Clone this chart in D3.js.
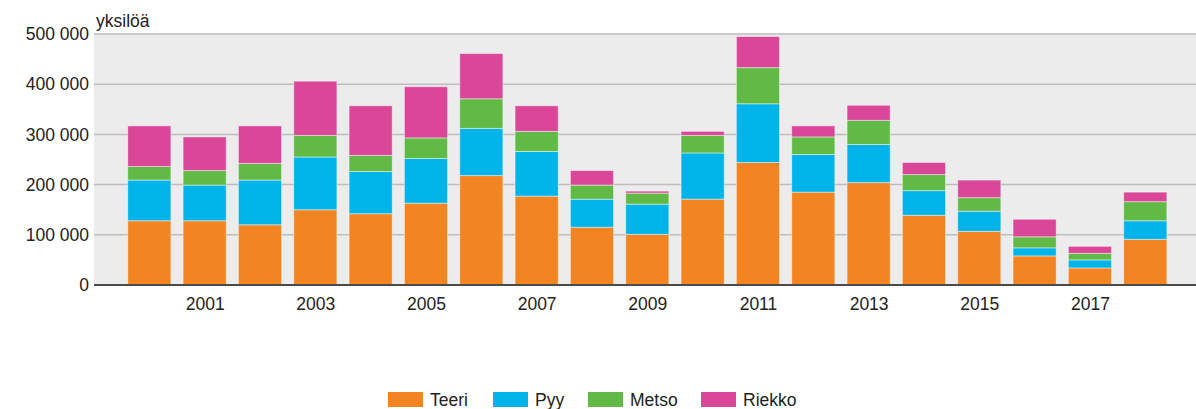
<!DOCTYPE html>
<html>
<head>
<meta charset="utf-8">
<script src="https://cdn.jsdelivr.net/npm/d3@7"></script>
<style>
  html, body { margin: 0; padding: 0; background: #fff; }
  svg { display: block; font-family: "Liberation Sans", Arial, sans-serif; }
</style>
</head>
<body>
<svg id="chart" width="1196" height="409"></svg>
<script>
// Riistasaaliit lajeittain (yksilöä)
const years = [2000, 2001, 2002, 2003, 2004, 2005, 2006, 2007, 2008, 2009,
               2010, 2011, 2012, 2013, 2014, 2015, 2016, 2017, 2018];
const seriesNames = ["Teeri", "Pyy", "Metso", "Riekko"];
const teeri  = [128000, 128000, 120000, 150000, 142000, 163000, 218000, 177000, 115000, 101000,
                171000, 244000, 185000, 204000, 139000, 107000, 58000, 34000, 91000];
const pyy    = [81000, 71000, 89000, 105000, 84000, 89000, 94000, 89000, 56000, 60000,
                92000, 117000, 75000, 76000, 49000, 40000, 16000, 16000, 37000];
const metso  = [27000, 29000, 33000, 43000, 32000, 41000, 59000, 40000, 28000, 22000,
                35000, 72000, 35000, 48000, 32000, 27000, 22000, 13000, 38000];
const riekko = [81000, 67000, 75000, 108000, 99000, 102000, 90000, 51000, 29000, 4000,
                8000, 62000, 22000, 30000, 24000, 35000, 35000, 14000, 19000];
const yTicks = [0, 100000, 200000, 300000, 400000, 500000];
const xTickYears = [2001, 2003, 2005, 2007, 2009, 2011, 2013, 2015, 2017];
const colors = ["#f38422", "#00b4ea", "#61ba46", "#da4799"];
const yLabel = "yksilöä";

const rows = years.map((y, i) => ({
  year: y, Teeri: teeri[i], Pyy: pyy[i], Metso: metso[i], Riekko: riekko[i]
}));

const svg = d3.select("#chart");
const plot = { left: 94, right: 1196, top: 34, bottom: 285 };
const fontSize = 17.5;

// continuous year axis: one year of space before the first bar
const step = 55.33;
const x = d3.scaleLinear()
  .domain([1999, 2019])
  .range([plot.left, plot.left + 20 * step]);
const barWidth = step * 0.78;

const y = d3.scaleLinear().domain([0, 500000]).range([plot.bottom, plot.top]);
const color = d3.scaleOrdinal().domain(seriesNames).range(colors);

// plot background
svg.append("rect")
  .attr("x", plot.left).attr("y", plot.top)
  .attr("width", plot.right - plot.left).attr("height", plot.bottom - plot.top)
  .attr("fill", "#ececec");

// gridlines
svg.append("g").selectAll("line")
  .data(yTicks.filter(d => d > 0))
  .join("line")
  .attr("x1", plot.left).attr("x2", plot.right)
  .attr("y1", d => y(d)).attr("y2", d => y(d))
  .attr("stroke", "#bdbdbd").attr("stroke-width", 1.5);

// stacked bars
const stack = d3.stack().keys(seriesNames)(rows);
svg.append("g").selectAll("g")
  .data(stack)
  .join("g")
  .attr("fill", d => color(d.key))
  .selectAll("rect")
  .data(d => d)
  .join("rect")
  .attr("x", d => x(d.data.year) - barWidth / 2)
  .attr("width", barWidth)
  .attr("y", d => y(d[1]))
  .attr("height", d => y(d[0]) - y(d[1]))
  .attr("stroke", "rgba(255,255,255,0.45)")
  .attr("stroke-width", 1);

// y axis labels
const yAxis = d3.axisLeft(y)
  .tickValues(yTicks)
  .tickSize(0)
  .tickPadding(5)
  .tickFormat(d => d3.format(",")(d).replace(/,/g, " "));
svg.append("g")
  .attr("transform", `translate(${plot.left},0)`)
  .call(yAxis)
  .call(g => g.select(".domain").remove())
  .call(g => g.selectAll("text").attr("font-size", fontSize).attr("fill", "#222")
    .attr("font-family", "'Liberation Sans', Arial, sans-serif"));

// x axis
const xAxis = d3.axisBottom(x)
  .tickValues(xTickYears)
  .tickSize(0)
  .tickPadding(13)
  .tickFormat(d3.format("d"));
svg.append("g")
  .attr("transform", `translate(0,${plot.bottom})`)
  .call(xAxis)
  .call(g => g.select(".domain").remove())
  .call(g => g.selectAll("text").attr("font-size", fontSize).attr("fill", "#222")
    .attr("font-family", "'Liberation Sans', Arial, sans-serif"));

svg.append("line")
  .attr("x1", plot.left).attr("x2", plot.right)
  .attr("y1", plot.bottom).attr("y2", plot.bottom)
  .attr("stroke", "#4a4a4a").attr("stroke-width", 2);

// unit label
svg.append("text")
  .attr("x", 96).attr("y", 27)
  .attr("font-size", fontSize).attr("fill", "#222")
  .text(yLabel);

// legend
const legendX = [388, 493, 588, 701];
const legend = svg.append("g").selectAll("g")
  .data(seriesNames)
  .join("g")
  .attr("transform", (d, i) => `translate(${legendX[i]},392)`);
legend.append("rect")
  .attr("width", 35).attr("height", 15)
  .attr("fill", d => color(d));
legend.append("text")
  .attr("x", 42).attr("y", 14)
  .attr("font-size", fontSize).attr("fill", "#222")
  .text(d => d);
</script>
</body>
</html>
